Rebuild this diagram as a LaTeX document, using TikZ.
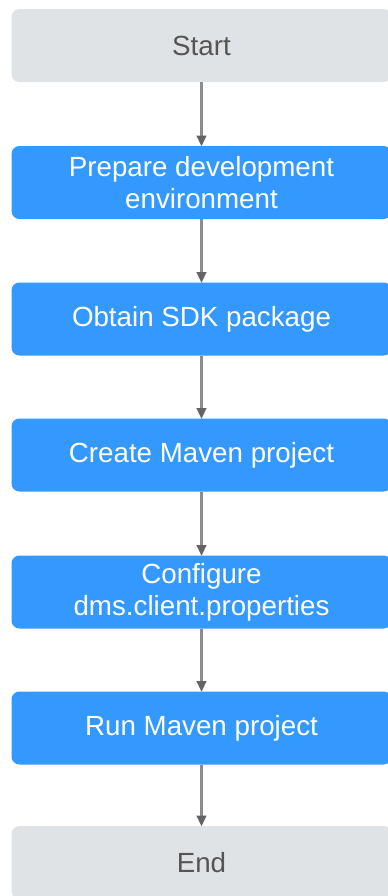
\documentclass[tikz,border=0pt]{standalone}
\usepackage{fontspec}
\setmainfont{Liberation Sans}
\usetikzlibrary{arrows.meta}
\definecolor{stepblue}{RGB}{51,153,255}
\definecolor{endgray}{RGB}{224,227,229}
\definecolor{endtext}{RGB}{85,85,85}
\definecolor{linegray}{RGB}{140,140,140}
\definecolor{headgray}{RGB}{100,100,100}
\tikzset{
	stepbox/.style={rectangle, rounded corners=6pt, minimum width=285pt, minimum height=54.75pt,
		inner sep=0pt, align=center, font=\fontsize{20.8}{24}\selectfont},
	actbox/.style={stepbox, fill=stepblue, text=white},
	termbox/.style={stepbox, fill=endgray, text=endtext},
	flowarrow/.style={draw=linegray, line width=1.9pt,
		-{Triangle[width=7pt, length=8pt, color=headgray]}, shorten >=-0.5pt}
}

\begin{document}
\begin{tikzpicture}[x=0.75pt, y=-0.75pt]
			%%%%% START %%%%%
			
			\useasboundingbox (0, 0) rectangle (387, 896);
			
			\node[termbox] (start) at (201.5, 45.5) {Start};
			\node[actbox] (prepare) at (201.5, 182.5) {Prepare development\\environment};
			\node[actbox] (obtain) at (201.5, 319) {Obtain SDK package};
			\node[actbox] (create) at (201.5, 455) {Create Maven project};
			\node[actbox] (config) at (201.5, 592) {Configure\\dms.client.properties};
			\node[actbox] (run) at (201.5, 728) {Run Maven project};
			\node[termbox] (end) at (201.5, 862.5) {End};
			
			\draw[flowarrow] (start) -- (prepare);
			\draw[flowarrow] (prepare) -- (obtain);
			\draw[flowarrow] (obtain) -- (create);
			\draw[flowarrow] (create) -- (config);
			\draw[flowarrow] (config) -- (run);
			\draw[flowarrow] (run) -- (end);
			
			%%%%% END %%%%%
		\end{tikzpicture}
\end{document}
